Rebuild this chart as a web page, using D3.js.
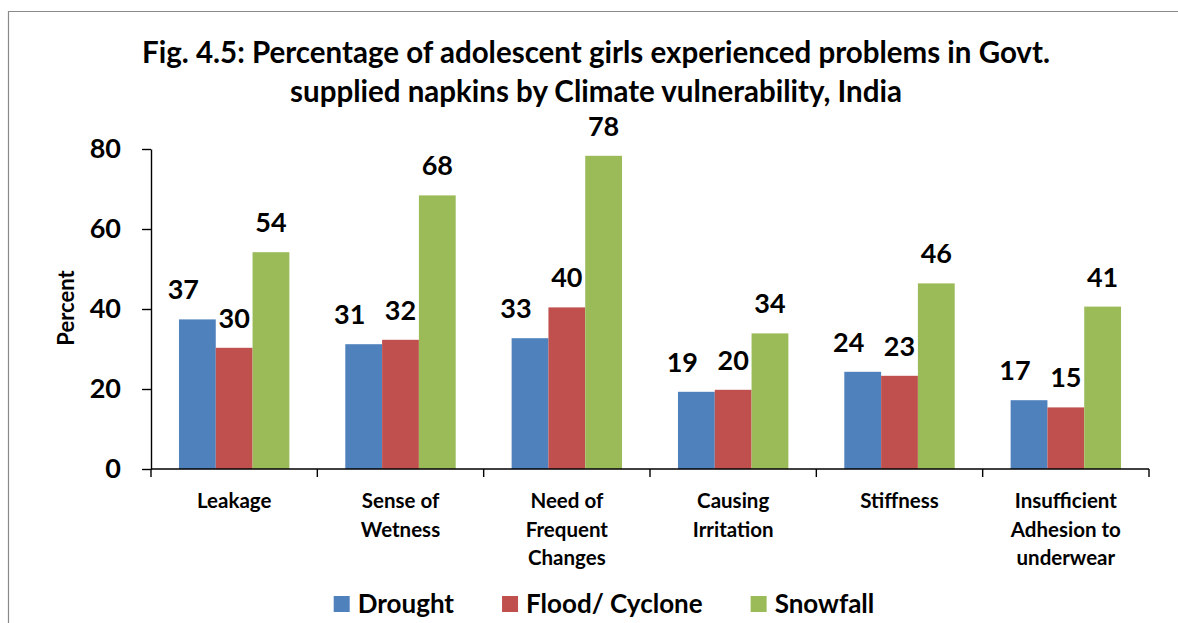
<!DOCTYPE html>
<html>
<head>
<meta charset="utf-8">
<script src="https://cdn.jsdelivr.net/npm/d3@7"></script>
<style>
  html, body { margin: 0; padding: 0; background: #fff; }
  svg { display: block; font-family: Lato, "Noto Sans", sans-serif; font-weight: bold; }
</style>
</head>
<body>
<div class="maintable"></div>
<script>
// data
var categories = [
  ["Leakage"],
  ["Sense of", "Wetness"],
  ["Need of", "Frequent", "Changes"],
  ["Causing", "Irritation"],
  ["Stiffness"],
  ["Insufficient", "Adhesion to", "underwear"]
];
var seriesNames = ["Drought", "Flood/ Cyclone", "Snowfall"];
var drought = [37.4, 31.2, 32.7, 19.3, 24.3, 17.2];
var flood   = [30.3, 32.3, 40.4, 19.8, 23.3, 15.4];
var snowfall = [54.2, 68.4, 78.3, 33.9, 46.4, 40.6];
var yTicks = [0, 20, 40, 60, 80];
var titleLines = [
  "Fig. 4.5: Percentage of adolescent girls experienced problems in Govt.",
  "supplied napkins by Climate vulnerability, India"
];

var colors = ["#4F81BD", "#C0504D", "#9BBB59"];
var series = [drought, flood, snowfall];
var W = 1178, H = 623;

var svg = d3.select(".maintable").append("svg")
  .attr("width", W)
  .attr("height", H);

// outer frame (only left and top edges are visible)
svg.append("path")
  .attr("d", "M8.5," + H + " V11.5 H" + W)
  .attr("fill", "none")
  .attr("stroke", "#8a8a8a")
  .attr("stroke-width", 1.2);

// title
svg.append("g")
  .selectAll("text")
  .data(titleLines)
  .enter().append("text")
  .attr("x", 596)
  .attr("y", function(d, i){ return 63 + i * 38.5; })
  .attr("text-anchor", "middle")
  .attr("font-size", "29.5px")
  .text(function(d){ return d; });

var y = d3.scaleLinear().domain([0, 80]).range([469, 149]);
var x = d3.scaleBand().domain(d3.range(categories.length)).range([151, 1149]).padding(0);
var xs = d3.scaleBand().domain(d3.range(seriesNames.length)).range([0, x.bandwidth()])
  .paddingInner(0).paddingOuter(0.76);

// y axis
var yAxis = svg.append("g")
  .attr("transform", "translate(151,0)")
  .call(d3.axisLeft(y).tickValues(yTicks).tickSize(9).tickPadding(21).tickSizeOuter(0));
yAxis.selectAll("path, line").attr("stroke", "#000").attr("stroke-width", 1.4);
yAxis.selectAll("text")
  .attr("font-size", "27px")
  .attr("font-family", "Lato, sans-serif")
  .attr("font-weight", "bold")
  .attr("fill", "#000")
  .attr("dy", "0.3em");

svg.append("text")
  .attr("transform", "translate(74,308) rotate(-90)")
  .attr("text-anchor", "middle")
  .attr("font-size", "22px")
  .text("Percent");

// bars
var groups = svg.append("g")
  .selectAll("g")
  .data(categories)
  .enter().append("g")
  .attr("transform", function(d, i){ return "translate(" + x(i) + ",0)"; });

groups.each(function(cat, ci){
  var g = d3.select(this);
  series.forEach(function(vals, si){
    g.append("rect")
      .attr("x", xs(si))
      .attr("y", y(vals[ci]))
      .attr("width", xs.bandwidth())
      .attr("height", y(0) - y(vals[ci]))
      .attr("fill", colors[si]);
  });
  series.forEach(function(vals, si){
    // drought labels sit a bit to the left in the original
    var shift = si === 0 ? -14 : 0;
    g.append("text")
      .attr("x", xs(si) + xs.bandwidth() / 2 + shift)
      .attr("y", y(vals[ci]) - 20)
      .attr("text-anchor", "middle")
      .attr("font-size", "27px")
      .text(Math.round(vals[ci]));
  });
  // category label
  g.append("text")
    .attr("text-anchor", "middle")
    .attr("font-size", "20.5px")
    .selectAll("tspan")
    .data(cat)
    .enter().append("tspan")
    .attr("x", x.bandwidth() / 2)
    .attr("y", function(d, i){ return 508 + i * 28.5; })
    .text(function(d){ return d; });
});

// x axis line and boundary ticks
svg.append("path")
  .attr("d", "M151," + y(0) + " H" + x.range()[1])
  .attr("stroke", "#000")
  .attr("stroke-width", 1.4);
svg.append("g")
  .selectAll("line")
  .data(d3.range(categories.length + 1))
  .enter().append("line")
  .attr("x1", function(d){ return x.range()[0] + d * x.step(); })
  .attr("x2", function(d){ return x.range()[0] + d * x.step(); })
  .attr("y1", y(0))
  .attr("y2", y(0) + 8)
  .attr("stroke", "#000")
  .attr("stroke-width", 1.4);

// legend
var legend = svg.append("g").attr("transform", "translate(0,604)");
var items = legend.selectAll("g")
  .data(seriesNames)
  .enter().append("g");
items.append("rect")
  .attr("y", -8)
  .attr("width", 16)
  .attr("height", 16)
  .attr("fill", function(d, i){ return colors[i]; });
items.append("text")
  .attr("x", 24)
  .attr("y", 9)
  .attr("font-size", "26px")
  .text(function(d){ return d; });

var offs = [], pos = 0;
items.each(function(){
  var w = d3.select(this).select("text").node().getComputedTextLength();
  offs.push(pos);
  pos += 24 + w + 48;
});
var total = pos - 48;
var startX = 604 - total / 2;
items.attr("transform", function(d, i){ return "translate(" + (startX + offs[i]) + ",0)"; });
</script>
</body>
</html>
